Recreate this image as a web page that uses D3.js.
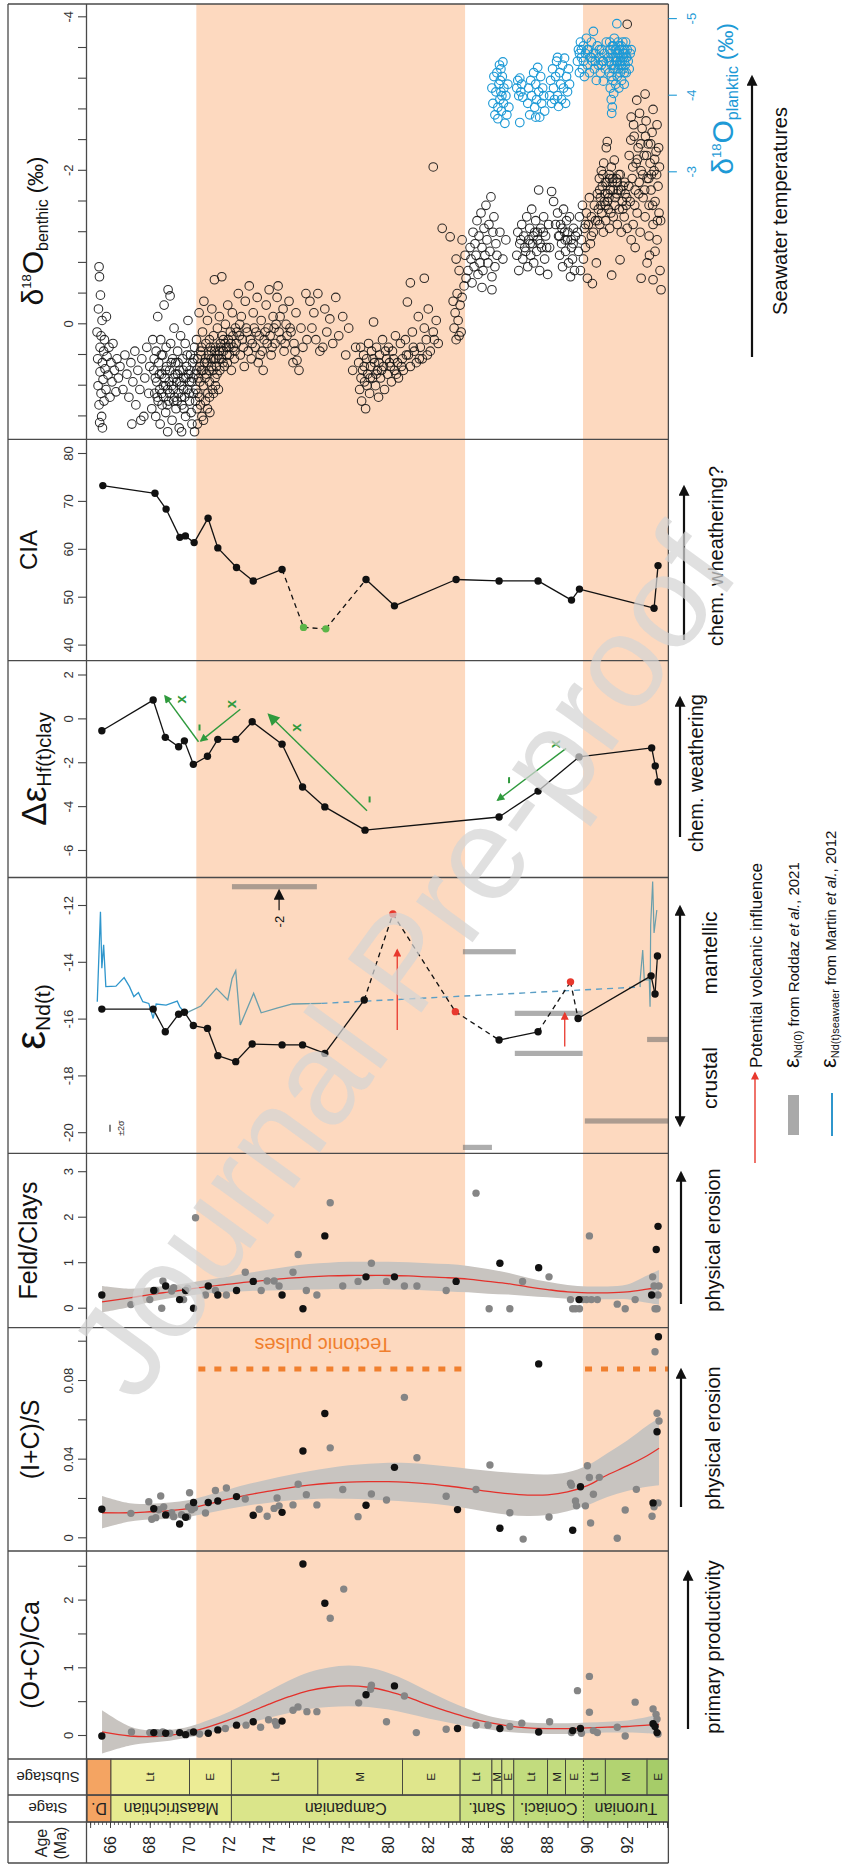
<!DOCTYPE html>
<html>
<head>
<meta charset="utf-8">
<script src="https://cdn.jsdelivr.net/npm/d3@7"></script>
<style>
  body { margin: 0; background: #fff; }
  svg { display: block; font-family: "Liberation Sans", Arial, Helvetica, sans-serif; }
</style>
</head>
<body>
<svg id="chart" width="842" height="1865"></svg>
<script>
// ---------- data (ages in Ma) ----------
const ageTicks = [66, 68, 70, 72, 74, 76, 78, 80, 82, 84, 86, 88, 90, 92];
const shadedAges = [[70.34, 83.85], [89.78, 94.07]];

const stageNames = ["D.", "Maastrichtian", "Campanian", "Sant.", "Coniaci.", "Turonian"];
const stageStart = [64.85, 66.05, 72.1, 83.6, 86.3, 89.8];
const stageEnd = [66.05, 72.1, 83.6, 86.3, 89.8, 94.07];
const subNames = ["", "Lt", "E", "Lt", "M", "E", "Lt", "M", "E", "Lt", "M", "E", "Lt", "M", "E"];
const subStart = [64.85, 66.05, 70.0, 72.1, 76.45, 80.7, 83.6, 85.2, 85.7, 86.3, 88.0, 88.9, 89.8, 90.9, 93.0];
const subEnd = [66.05, 70.0, 72.1, 76.45, 80.7, 83.6, 85.2, 85.7, 86.3, 88.0, 88.9, 89.8, 90.9, 93.0, 94.07];

// smoothing fits (red) with confidence band (grey)
const fitAge = [65.6, 67, 68, 69, 70, 71, 72, 73, 74, 75, 76, 77, 78, 79, 80, 81, 82, 83, 84, 85, 86, 87, 88, 89, 90, 91, 92, 93, 93.6];
const ocaFit = [0.06, 0.0, -0.01, 0.01, 0.06, 0.14, 0.24, 0.35, 0.47, 0.58, 0.67, 0.72, 0.74, 0.72, 0.66, 0.57, 0.46, 0.36, 0.27, 0.2, 0.15, 0.12, 0.11, 0.11, 0.12, 0.13, 0.14, 0.16, 0.17];
const ocaLow = [-0.26, -0.14, -0.1, -0.07, -0.02, 0.04, 0.12, 0.19, 0.27, 0.34, 0.4, 0.43, 0.44, 0.43, 0.39, 0.33, 0.26, 0.2, 0.14, 0.1, 0.06, 0.04, 0.03, 0.03, 0.04, 0.05, 0.05, 0.04, 0.02];
const ocaHigh = [0.38, 0.14, 0.08, 0.09, 0.14, 0.24, 0.36, 0.51, 0.67, 0.82, 0.94, 1.01, 1.04, 1.01, 0.93, 0.81, 0.66, 0.52, 0.4, 0.3, 0.24, 0.2, 0.19, 0.19, 0.2, 0.21, 0.23, 0.28, 0.32];
const icsFit = [0.013, 0.013, 0.0135, 0.0141, 0.0152, 0.0176, 0.02, 0.0222, 0.024, 0.0257, 0.027, 0.028, 0.0286, 0.0288, 0.0288, 0.0284, 0.0277, 0.0266, 0.0253, 0.0239, 0.0227, 0.022, 0.0221, 0.0236, 0.0268, 0.0322, 0.0368, 0.042, 0.0458];
const icsLow = [0.005, 0.0085, 0.0095, 0.01, 0.011, 0.013, 0.015, 0.0168, 0.0181, 0.0192, 0.0199, 0.0203, 0.0201, 0.0197, 0.0192, 0.0186, 0.0178, 0.0167, 0.0152, 0.0134, 0.012, 0.0113, 0.0118, 0.0137, 0.0168, 0.021, 0.024, 0.0262, 0.027];
const icsHigh = [0.0215, 0.0178, 0.0176, 0.0182, 0.0195, 0.0222, 0.025, 0.0277, 0.03, 0.0322, 0.0341, 0.0357, 0.0371, 0.0379, 0.0384, 0.0383, 0.0376, 0.0365, 0.0354, 0.0344, 0.0335, 0.0328, 0.0325, 0.0336, 0.037, 0.0432, 0.0497, 0.0572, 0.061];
const feldFit = [0.15, 0.24, 0.31, 0.37, 0.43, 0.49, 0.54, 0.59, 0.63, 0.67, 0.7, 0.72, 0.73, 0.73, 0.73, 0.72, 0.7, 0.68, 0.65, 0.6, 0.55, 0.48, 0.42, 0.37, 0.35, 0.35, 0.37, 0.43, 0.47];
const feldLow = [-0.08, 0.04, 0.15, 0.23, 0.29, 0.34, 0.37, 0.39, 0.4, 0.41, 0.42, 0.43, 0.43, 0.43, 0.43, 0.42, 0.4, 0.38, 0.36, 0.33, 0.31, 0.28, 0.25, 0.22, 0.21, 0.21, 0.21, 0.13, 0.09];
const feldHigh = [0.5, 0.44, 0.47, 0.51, 0.57, 0.64, 0.71, 0.79, 0.86, 0.93, 0.98, 1.01, 1.03, 1.03, 1.03, 1.02, 1.0, 0.98, 0.94, 0.87, 0.79, 0.68, 0.59, 0.52, 0.49, 0.49, 0.53, 0.73, 0.85];

// clay ratios: [age, value]
const ocaBlack = [[65.59, 0.0], [68.2, 0.05], [68.8, 0.04], [69.5, 0.05], [69.8, 0.02], [70.2, 0.06], [70.94, 0.04], [71.42, 0.09], [72.36, 0.16], [73.2, 0.21], [74.65, 0.22], [75.7, 2.54], [76.8, 1.96], [78.87, 0.61], [80.3, 0.74], [83.47, 0.11], [85.6, 0.11], [87.55, 0.06], [89.26, 0.08], [89.65, 0.11], [93.3, 0.18], [93.4, 0.14], [93.5, 0.05]];
const ocaGray = [[67.08, 0.06], [68.0, 0.05], [68.35, 0.05], [68.5, 0.04], [68.65, 0.06], [69.0, 0.04], [70.0, 0.05], [70.5, 0.03], [71.8, 0.11], [72.84, 0.16], [73.57, 0.13], [73.97, 0.24], [74.3, 0.21], [74.37, 0.16], [75.2, 0.38], [75.45, 0.43], [75.9, 0.36], [76.4, 0.36], [77.07, 1.74], [77.75, 2.17], [78.5, 0.49], [79.1, 0.69], [79.14, 0.75], [79.9, 0.21], [80.8, 0.59], [81.4, 0.05], [82.9, 0.1], [84.4, 0.16], [85.0, 0.16], [86.1, 0.14], [86.7, 0.19], [88.1, 0.21], [89.2, 0.05], [89.5, 0.67], [89.7, 0.04], [90.1, 0.35], [90.1, 0.88], [90.3, 0.08], [90.5, 0.05], [91.5, 0.13], [91.9, 0.0], [92.4, 0.5], [93.3, 0.4], [93.45, 0.32], [93.5, 0.25], [93.55, 0.03]];
const icsBlack = [[65.59, 0.0148], [68.2, 0.015], [68.8, 0.0119], [69.5, 0.0073], [69.8, 0.0107], [70.2, 0.0182], [70.94, 0.0182], [71.42, 0.019], [72.36, 0.0212], [73.2, 0.0117], [74.65, 0.0132], [75.7, 0.0444], [76.8, 0.0635], [78.87, 0.0168], [80.3, 0.0361], [83.47, 0.0146], [85.6, 0.0051], [87.55, 0.0887], [89.26, 0.0041], [89.65, 0.0262], [93.3, 0.018], [93.5, 0.0542], [93.57, 0.1025]];
const icsGray = [[67.05, 0.0127], [67.95, 0.0186], [68.1, 0.0097], [68.3, 0.0105], [68.45, 0.0145], [68.55, 0.0215], [68.7, 0.016], [69.1, 0.013], [69.2, 0.011], [69.6, 0.012], [69.9, 0.011], [70.0, 0.0232], [69.95, 0.016], [70.1, 0.0145], [70.25, 0.0155], [70.8, 0.0129], [71.3, 0.0243], [71.85, 0.0256], [72.8, 0.02], [73.5, 0.0148], [73.9, 0.0112], [74.25, 0.0152], [74.4, 0.0205], [74.5, 0.0165], [75.2, 0.017], [75.46, 0.0275], [75.87, 0.0222], [76.4, 0.017], [77.07, 0.046], [77.7, 0.0248], [78.47, 0.011], [79.14, 0.0225], [79.9, 0.0195], [80.8, 0.0717], [81.43, 0.041], [82.9, 0.0214], [84.4, 0.0248], [85.1, 0.0373], [86.1, 0.013], [86.77, -0.0004], [88.07, 0.0108], [89.15, 0.028], [89.2, 0.027], [89.4, 0.019], [89.45, 0.0165], [90.0, 0.0369], [90.1, 0.0309], [89.9, 0.0165], [90.16, 0.0078], [90.3, 0.0224], [90.6, 0.031], [91.5, 0.0], [91.9, 0.0144], [92.46, 0.0249], [93.25, 0.0112], [93.35, 0.016], [93.4, 0.0949], [93.5, 0.0636], [93.6, 0.0597], [93.55, 0.018]];
const feldBlack = [[65.59, 0.3], [68.2, 0.4], [68.8, 0.5], [69.5, 0.2], [69.8, 0.4], [70.2, 0.01], [70.94, 0.5], [71.42, 0.3], [72.36, 0.4], [73.2, 0.6], [74.65, 0.3], [75.7, 0.0], [76.8, 1.6], [78.87, 0.7], [80.3, 0.7], [83.4, 0.6], [85.6, 1.0], [87.55, 0.9], [89.58, 0.2], [93.23, 0.3], [93.46, 1.3], [93.55, 1.81]];
const feldGray = [[67.05, 0.09], [68.0, 0.2], [68.6, 0.01], [68.3, 0.4], [68.66, 0.61], [69.1, 0.39], [69.2, 0.46], [69.7, 0.2], [69.9, 0.45], [70.3, 2.0], [70.8, 0.3], [71.3, 0.4], [71.85, 0.3], [72.8, 0.8], [73.6, 0.4], [73.9, 0.61], [74.25, 0.61], [74.5, 0.5], [75.2, 0.8], [75.46, 1.19], [75.87, 0.4], [76.4, 0.3], [77.07, 2.33], [77.7, 0.5], [78.47, 0.6], [79.14, 1.0], [79.9, 0.6], [80.8, 0.5], [81.43, 0.5], [82.9, 0.4], [84.4, 2.54], [85.06, 0.0], [86.1, 0.0], [86.74, 0.6], [88.07, 0.7], [89.15, 0.2], [89.26, 0.0], [89.4, 0.0], [89.6, 0.0], [89.75, 0.2], [89.95, 0.2], [90.2, 0.2], [90.5, 0.2], [90.1, 1.6], [91.5, 0.1], [91.9, 0.0], [92.4, 0.2], [93.28, 0.7], [93.35, 0.5], [93.4, 0.0], [93.5, 0.0], [93.55, 0.3], [93.6, 0.5]];

// Nd isotopes
const ndSamples = [[65.59, -15.63], [68.17, -15.63], [68.78, -16.43], [69.45, -15.81], [69.74, -15.74], [70.19, -16.21], [70.9, -16.31], [71.42, -17.27], [72.32, -17.48], [73.15, -16.86], [74.65, -16.89], [75.68, -16.89], [76.8, -17.19], [78.78, -15.31], [85.56, -16.72], [87.52, -16.43], [89.53, -15.96], [93.2, -14.46], [93.4, -15.1], [93.52, -13.76]];
const ndVolcanic = [[80.22, -12.28], [83.36, -15.72], [89.15, -14.67]];
const volcanicArrows = [[80.44, -16.37, -13.55], [88.86, -16.95, -15.78]];
const ndRoddaz = [[72.13, 76.4, -11.32], [83.74, 86.4, -13.61], [86.35, 89.76, -15.78], [86.35, 89.76, -17.19], [93.0, 94.07, -16.7], [89.87, 94.07, -19.57], [83.74, 85.2, -20.5]];
const seawaterBlue = [[65.36, -15.37], [65.52, -12.2], [65.59, -14.19], [65.68, -13.37], [65.79, -14.84], [66.3, -14.82], [66.71, -14.52], [66.98, -14.84], [67.2, -15.19], [67.43, -15.05], [67.65, -15.37], [67.95, -15.43], [68.17, -15.96], [68.32, -15.45], [68.82, -15.49], [69.38, -15.35], [69.51, -15.55], [69.79, -15.78]];
const seawaterTeal = [[69.79, -15.78], [70.57, -15.52], [71.35, -14.9], [71.92, -15.31], [72.14, -14.55], [72.32, -14.28], [72.55, -16.19], [73.22, -15.07], [73.6, -15.76], [74.39, -15.6], [75.17, -15.45], [76.63, -15.43]];
const seawaterGap = [[76.63, -15.43], [92.65, -14.85]];
const seawaterLate = [[92.65, -14.85], [92.65, -14.6], [92.78, -13.55], [92.86, -14.6], [93.11, -14.6], [93.15, -15.55], [93.18, -12.67], [93.28, -11.14], [93.35, -12.95], [93.49, -12.14]];

// Hf
const hfSamples = [[65.59, -0.52], [68.17, 0.88], [68.78, -0.82], [69.45, -1.25], [69.74, -0.98], [70.19, -2.05], [70.9, -1.68], [71.42, -0.91], [72.32, -0.91], [73.15, -0.11], [74.65, -1.13], [75.68, -3.08], [76.8, -3.99], [78.82, -5.05], [85.56, -4.45], [87.52, -3.27], [89.58, -1.71], [93.23, -1.3], [93.41, -2.12], [93.55, -2.85]];
const hfGreenArrows = [[70.45, -1.02, 68.77, 1.06], [72.55, 0.46, 70.57, -0.98], [78.92, -4.17, 74.0, 0.2], [88.93, -1.32, 85.49, -3.68]];
const hfGreenCross = [[69.56, 0.91], [72.07, 0.7], [75.35, -0.37], [88.37, -1.13]];
const hfGreenTick = [[70.5, -0.37], [79.05, -3.65], [86.06, -2.77]];

// CIA
const ciaSamples = [[65.64, 73.4], [68.26, 71.8], [68.82, 68.5], [69.51, 62.6], [69.79, 62.9], [70.23, 61.5], [70.93, 66.6], [71.42, 60.4], [72.36, 56.3], [73.2, 53.5], [74.65, 55.9], [78.87, 53.8], [80.3, 48.3], [83.4, 53.8], [85.56, 53.5], [87.52, 53.5], [89.2, 49.5], [89.6, 51.8], [93.35, 47.8], [93.55, 56.7]];
const ciaGreen = [[75.73, 43.8], [76.85, 43.5]];

// oxygen isotopes: [age, permil]
const benthicD18O = [
  [65.35,0.1],[65.38,0.45],[65.4,0.8],[65.42,-0.2],[65.45,1.05],[65.45,-0.75],[65.47,-0.62],[65.5,0.3],[65.5,0.62],[65.52,-0.38],[65.55,0.9],[65.55,0.15],[65.58,1.2],[65.6,-0.05],[65.62,0.5],[65.65,0.72],[65.68,0.35],[65.7,1.0],[65.72,0.2],[65.75,0.58],[65.8,0.85],[65.82,-0.1],[65.85,0.42],[65.9,0.66],[65.95,0.3],[66.0,0.95],[66.05,0.5],[66.1,0.75],[66.15,0.25],[66.22,0.6],[66.3,0.88],[66.35,0.45],[66.42,0.7],[66.5,0.55],[65.62,1.35],[65.48,1.28],
  [66.65,0.85],[66.75,0.4],[66.85,0.65],[66.95,0.95],[67.05,0.5],[67.15,0.75],[67.25,0.35],[67.3,1.05],[67.4,0.6],[67.5,0.85],[67.6,0.45],[67.7,1.2],[67.75,0.7],[67.85,0.3],[67.95,0.9],[68.0,0.55],[68.1,1.1],[68.15,0.2],[67.1,1.3],[67.55,1.25],
  [68.2,0.6],[68.25,0.9],[68.3,1.2],[68.32,0.35],[68.35,0.75],[68.4,-0.1],[68.42,1.0],[68.45,0.5],[68.5,0.85],[68.52,1.3],[68.55,0.2],[68.6,0.65],[68.62,1.05],[68.65,0.4],[68.7,0.95],[68.72,-0.25],[68.75,0.7],[68.8,1.15],[68.82,0.3],[68.85,0.55],[68.9,0.85],[68.92,-0.45],[68.95,1.0],[69.0,0.6],[69.02,-0.37],[69.05,0.25],[69.1,0.8],[69.12,1.25],[69.15,0.45],[69.2,0.7],[69.22,0.05],[69.25,0.95],[69.3,0.5],[69.32,1.1],[69.35,0.75],[69.4,0.35],[69.45,0.9],[69.48,1.35],[69.5,0.6],[69.55,0.15],[69.6,0.8],[69.62,1.05],[69.65,0.45],[69.7,0.7],[69.75,0.95],[69.78,0.25],[69.8,1.2],[69.85,0.55],[69.9,0.85],[69.92,-0.05],[69.95,0.65],[70.0,1.0],[70.05,0.4],[70.1,0.75],[70.12,1.3],[70.15,0.5],[70.2,0.9],[70.25,0.3],[70.28,0.65],[69.0,0.9],[68.8,0.8],[69.4,0.65],[68.6,0.9],[69.2,1.0],[69.7,0.85],[70.0,0.75],
  [68.22,0.45],[68.28,0.7],[68.38,0.95],[68.48,0.65],[68.58,0.4],[68.68,0.8],[68.78,0.6],[68.88,1.05],[68.98,0.75],[69.08,0.5],[69.18,0.85],[69.28,0.65],[69.38,1.0],[69.42,0.5],[69.52,0.75],[69.58,0.95],[69.68,0.6],[69.72,1.1],[69.82,0.7],[69.88,0.4],[69.98,0.9],[70.02,0.6],[70.08,1.15],[70.18,0.7],[70.22,0.45],[70.3,1.0],[68.9,1.4],[69.6,1.4],
  [70.32,0.85],[70.35,0.2],[70.38,1.1],[70.4,0.45],[70.45,0.7],[70.48,-0.15],[70.5,0.95],[70.55,0.35],[70.6,0.6],[70.62,1.2],[70.65,0.1],[70.7,0.8],[70.72,-0.3],[70.75,0.5],[70.8,1.0],[70.82,0.25],[70.85,0.65],[70.9,-0.05],[70.92,0.9],[70.95,0.4],[71.0,0.75],[71.02,1.15],[71.05,0.3],[71.1,0.55],[71.12,-0.2],[71.15,0.85],[71.2,0.15],[71.22,0.45],[71.25,-0.58],[71.28,0.7],[71.3,0.3],[71.35,0.55],[71.4,0.05],[71.42,0.4],[71.45,0.85],[71.5,-0.1],[71.52,0.6],[71.55,0.25],[71.6,0.45],[71.62,-0.62],[71.65,0.15],[71.7,0.35],[71.75,0.55],[71.8,0.0],[71.85,0.3],[71.9,0.5],[71.92,-0.25],[71.95,0.2],[72.0,0.4],[72.05,0.1],[72.1,0.6],[72.15,-0.15],[72.2,0.3],[72.25,0.45],[72.3,0.05],[72.35,0.25],[70.6,0.3],[71.0,0.2],[71.3,0.8],[70.8,0.45],[71.1,0.35],[71.5,0.35],[71.7,0.2],[70.5,0.55],
  [70.36,0.6],[70.42,0.9],[70.52,0.75],[70.58,0.4],[70.68,0.6],[70.78,0.7],[70.88,0.5],[70.98,0.6],[71.08,0.45],[71.18,0.6],[71.26,0.35],[71.32,0.45],[71.38,0.65],[71.48,0.45],[71.58,0.3],[71.68,0.5],[71.78,0.25],[71.88,0.4],[71.98,0.3],[72.08,0.25],[72.18,0.15],[72.28,0.35],[72.38,0.1],[70.4,1.3],[70.7,1.25],[70.25,1.4],[71.0,0.95],[70.9,1.1],[71.2,0.9],[70.55,1.05],
  [72.45,-0.4],[72.5,0.15],[72.55,0.4],[72.6,-0.1],[72.7,0.3],[72.75,0.55],[72.8,-0.3],[72.9,0.1],[72.95,0.35],[73.0,-0.5],[73.05,0.2],[73.1,0.45],[73.2,-0.15],[73.25,0.05],[73.3,0.3],[73.4,-0.35],[73.45,0.5],[73.5,0.15],[73.6,-0.05],[73.65,0.35],[73.7,0.6],[73.8,0.1],[73.85,-0.25],[73.9,0.25],[74.0,-0.45],[74.05,0.15],[74.1,0.4],[74.2,-0.1],[74.25,0.05],[74.3,0.25],[74.4,-0.35],[74.45,-0.5],[74.5,0.1],[74.6,0.2],[74.7,-0.2],[74.75,0.35],[74.85,0.0],[74.9,0.15],[75.0,-0.3],[75.1,0.1],[75.2,0.5],[75.25,0.25],[75.35,-0.15],[75.4,0.47],[75.5,0.6],[75.6,0.05],[75.7,0.3],[75.85,-0.4],[75.9,0.2],
  [72.52,0.0],[72.65,0.2],[72.85,0.05],[73.15,0.25],[73.35,0.1],[73.55,0.4],[73.75,0.2],[73.95,0.05],[74.15,0.3],[74.35,0.0],[74.55,-0.1],[74.8,0.25],[75.05,0.05],[75.3,0.35],
  [76.05,-0.3],[76.15,0.05],[76.25,-0.15],[76.35,0.2],[76.45,-0.4],[76.55,0.35],[76.7,0.3],[76.8,-0.2],[76.9,0.1],[77.05,-0.07],[77.2,0.25],[77.35,-0.35],[77.5,0.15],[77.7,-0.1],[77.85,0.4],[78.0,0.05],[78.2,0.6],[78.35,0.3],
  [78.5,0.5],[78.55,0.85],[78.6,0.3],[78.65,1.0],[78.7,0.6],[78.75,0.4],[78.8,0.75],[78.85,1.1],[78.9,0.45],[78.95,0.65],[79.0,0.25],[79.05,0.9],[79.1,0.55],[79.15,0.35],[79.2,0.7],[79.25,-0.03],[79.3,0.5],[79.35,0.8],[79.4,0.3],[79.45,0.6],[79.5,0.95],[79.55,0.4],[79.6,0.7],[79.7,0.2],[79.75,0.55],[79.8,0.85],[79.9,0.45],[79.95,0.65],[80.0,0.3],[80.1,0.55],[80.15,0.75],[80.2,0.35],[80.3,0.6],[80.35,0.15],[80.45,0.5],[80.5,0.7],[80.6,0.25],[80.7,0.45],[80.75,0.6],[80.85,0.2],[80.95,-0.29],[81.0,0.4],[81.1,0.55],[81.2,0.1],[81.3,0.35],[81.4,0.5],[81.5,-0.1],[81.6,0.3],[81.7,0.45],[81.8,0.05],[81.9,0.2],[82.0,-0.2],[82.1,0.35],[82.25,0.1],[82.4,-0.05],[82.5,0.25],
  [78.62,0.7],[78.78,0.55],[78.92,0.8],[79.08,0.7],[79.22,0.45],[79.38,0.65],[79.52,0.5],[79.65,0.6],[79.85,0.35],[80.05,0.5],[80.25,0.45],[80.4,0.65],[80.65,0.55],[80.9,0.4],[81.25,0.3],[81.55,0.45],[81.95,0.4],[82.3,0.2],
  [83.25,-0.3],[83.3,0.05],[83.35,-0.15],[83.4,0.2],[83.45,-0.4],[83.5,-0.05],[83.55,0.15],[83.6,-0.25],[83.65,0.1],[83.7,-0.35],[83.8,-0.5],[83.9,-0.6],[82.25,-2.05],[81.1,-0.54],[81.8,-0.6],[82.7,-1.25],[83.1,-1.14],[83.7,-1.1],[83.4,-0.85],[83.55,-0.7],[83.85,-0.9],[84.2,-0.54],[84.7,-0.48],[85.2,-0.45],
  [84.0,-0.7],[84.1,-1.0],[84.15,-0.85],[84.25,-1.2],[84.3,-0.75],[84.35,-1.05],[84.4,-0.9],[84.45,-1.35],[84.5,-0.65],[84.55,-1.15],[84.6,-0.8],[84.65,-1.45],[84.7,-1.0],[84.75,-0.7],[84.8,-1.25],[84.85,-0.9],[84.9,-1.55],[84.95,-1.1],[85.0,-0.8],[85.05,-1.3],[85.1,-0.95],[85.15,-1.66],[85.2,-0.62],[85.25,-1.2],[85.3,-1.4],[85.35,-0.75],[85.4,-1.05],[85.45,-0.9],[85.6,-1.2],[85.75,-0.85],[85.9,-1.1],
  [86.45,-0.9],[86.5,-1.2],[86.55,-0.7],[86.6,-1.05],[86.7,-1.3],[86.75,-0.85],[86.8,-1.15],[86.9,-0.95],[86.95,-1.4],[87.0,-0.75],[87.05,-1.1],[87.1,-1.25],[87.15,-0.9],[87.2,-1.5],[87.25,-1.05],[87.3,-0.8],[87.35,-1.2],[87.4,-1.35],[87.45,-0.95],[87.5,-1.1],[87.55,-1.75],[87.6,-0.7],[87.65,-1.25],[87.7,-1.0],[87.8,-1.4],[87.85,-0.85],[87.9,-1.15],[88.0,-0.65],[88.05,-1.3],[88.1,-1.0],[88.2,-1.73],[88.3,-1.6],[88.5,-1.45],[88.55,-1.15],[88.6,-0.9],[88.65,-1.3],[88.7,-1.05],[88.75,-0.75],[88.8,-1.5],[88.85,-1.2],[88.9,-0.95],[88.95,-1.35],[89.0,-1.1],[89.05,-0.8],[89.1,-1.4],[89.15,-0.62],[89.2,-1.0],[89.25,-0.85],[89.3,-1.25],[89.35,-0.7],[89.4,-1.15],
  [86.65,-1.1],[86.85,-1.0],[87.12,-1.05],[87.28,-1.15],[87.48,-1.2],[87.62,-1.05],[87.78,-1.2],[87.95,-1.0],[88.6,-1.15],[88.72,-1.25],[88.88,-1.1],[89.02,-1.2],[89.18,-1.1],[89.28,-1.05],[88.4,-1.3],
  [89.5,-1.2],[89.55,-0.95],[89.6,-1.4],[89.65,-0.7],[89.7,-1.1],[89.75,-1.55],[89.8,-0.85],[89.85,-1.25],[89.9,-1.0],[89.95,-1.45],[90.0,-0.6],[90.05,-1.3],[90.1,-1.65],[90.15,-1.05],[90.2,-1.4],[90.25,-0.53],[90.3,-1.2],[90.35,-1.55],[90.4,-1.35],[90.45,-0.8],[90.5,-1.7],[90.55,-1.5],[90.6,-1.9],[90.62,-1.3],[90.65,-1.65],[90.7,-2.0],[90.72,-1.45],[90.75,-1.8],[90.8,-1.2],[90.82,-2.1],[90.85,-1.6],[90.9,-1.85],[90.92,-1.35],[90.95,-2.3],[91.0,-2.38],[91.02,-1.7],[91.05,-1.5],[91.1,-1.95],[91.12,-1.25],[91.15,-1.75],[91.2,-2.05],[91.22,-0.64],[91.25,-1.85],[91.3,-1.4],[91.35,-2.14],[91.4,-1.65],[91.45,-1.9],[91.5,-1.3],[91.55,-1.75],[91.6,-1.5],[91.64,-0.84],[91.65,-1.95],[91.7,-1.2],[91.75,-1.6],[91.8,-1.8],[91.85,-1.4],[91.9,-1.7],[91.95,-1.55],[92.0,-1.25],[92.0,-3.91],[91.0,-1.6],[91.3,-1.75],[90.9,-1.55],[91.5,-1.85],
  [90.62,-1.75],[90.68,-1.55],[90.78,-1.95],[90.88,-1.7],[90.98,-1.85],[91.08,-1.65],[91.18,-1.45],[91.28,-1.9],[91.38,-1.55],[91.48,-1.7],[91.58,-1.95],[91.68,-1.75],[91.78,-1.5],[91.88,-1.85],[91.98,-1.65],[92.08,-1.8],[92.18,-2.4],[92.28,-2.05],[92.38,-1.55],[92.52,-2.15],[92.58,-1.7],[92.68,-2.35],[92.78,-1.95],[92.88,-1.75],[92.98,-2.2],[93.08,-1.9],[93.18,-2.35],[93.28,-1.55],[93.38,-2.15],[93.48,-1.95],[93.58,-2.3],[93.52,-1.35],[92.32,-2.6],[92.92,-2.45],[93.22,-1.95],[91.12,-1.9],[90.52,-1.35],[90.2,-1.15],[89.9,-1.3],
  [92.1,-2.2],[92.15,-1.6],[92.2,-2.7],[92.25,-1.9],[92.3,-1.3],[92.35,-2.45],[92.4,-1.75],[92.45,-2.1],[92.48,-2.92],[92.5,-1.45],[92.55,-2.3],[92.6,-1.85],[92.62,-2.75],[92.65,-1.2],[92.7,-2.0],[92.75,-2.55],[92.8,-1.65],[92.85,-2.2],[92.9,-1.4],[92.95,-2.65],[93.0,-1.9],[93.05,-2.35],[93.1,-1.55],[93.12,-0.9],[93.15,-2.1],[93.2,-1.75],[93.25,-2.5],[93.3,-1.3],[93.35,-2.0],[93.4,-1.6],[93.45,-2.25],[93.5,-1.1],[93.55,-1.8],[93.6,-1.45],[93.62,-2.05],[93.65,-0.7],[93.68,-1.35],[93.7,-0.45],[92.7,-0.6],[93.0,-0.8],[92.4,-1.0],[93.3,-2.8],[92.9,-3.0],[93.5,-2.6],[93.1,-1.15],[92.2,-1.1],[93.4,-0.95],[93.3,-0.58]
];
const plankticD18O = [
  [85.2,-4.1],[85.25,-3.9],[85.3,-4.25],[85.35,-3.75],[85.4,-4.05],[85.45,-4.3],[85.5,-3.85],[85.55,-4.15],[85.58,-4.4],[85.6,-3.95],[85.62,-4.2],[85.65,-4.35],[85.68,-3.8],[85.7,-4.0],[85.72,-4.25],[85.75,-4.44],[85.78,-3.9],[85.8,-4.1],[85.85,-3.64],[85.9,-4.0],[85.95,-3.75],[86.0,-4.15],[85.5,-3.7],[85.65,-4.05],[86.05,-3.85],
  [86.45,-4.1],[86.5,-4.2],[86.55,-4.0],[86.6,-4.23],[86.65,-4.05],[86.7,-4.15],[86.75,-3.98],[86.6,-3.65],
  [87.0,-3.9],[87.05,-4.1],[87.1,-3.75],[87.15,-4.2],[87.2,-4.0],[87.3,-4.3],[87.35,-3.85],[87.4,-4.15],[87.45,-3.95],[87.5,-4.37],[87.55,-4.05],[87.6,-3.72],[87.65,-4.25],[87.7,-3.9],[87.75,-4.1],[87.8,-4.0],[87.85,-3.8],[87.4,-3.72],
  [88.1,-4.0],[88.15,-4.2],[88.2,-3.9],[88.25,-4.35],[88.3,-4.1],[88.35,-3.95],[88.4,-4.25],[88.45,-4.45],[88.5,-4.0],[88.55,-3.86],[88.6,-4.3],[88.65,-4.15],[88.7,-3.95],[88.75,-4.4],[88.8,-4.1],[88.85,-4.49],[88.9,-3.9],[88.95,-4.25],[89.0,-4.05],[89.05,-4.35],[89.1,-4.15],[88.5,-4.5],
  [89.5,-4.45],[89.55,-4.6],[89.6,-4.3],[89.65,-4.7],[89.7,-4.5],[89.75,-4.35],[89.8,-4.65],[89.85,-4.25],[89.9,-4.55],[89.95,-4.75],[90.0,-4.4],[90.05,-4.6],[90.1,-4.3],[90.15,-4.5],[90.2,-4.7],[90.25,-4.45],[90.3,-4.84],[90.35,-4.35],[90.4,-4.55],[90.45,-4.2],[90.5,-4.65],[90.55,-4.4],[90.6,-4.5],[90.65,-4.3],[90.7,-4.6],[90.75,-4.45],[90.8,-4.19],[90.85,-4.55],[90.9,-4.35],[90.95,-4.7],
  [89.6,-4.55],[89.8,-4.45],[90.0,-4.6],[90.2,-4.5],[90.4,-4.45],[90.6,-4.6],[90.8,-4.45],[89.7,-4.6],[90.3,-4.55],[90.7,-4.4],
  [91.05,-4.5],[91.1,-4.3],[91.12,-4.7],[91.15,-4.1],[91.18,-4.55],[91.2,-3.95],[91.22,-4.4],[91.22,-3.77],[91.25,-4.65],[91.28,-4.2],[91.3,-4.5],[91.32,-4.03],[91.35,-4.75],[91.38,-4.35],[91.4,-4.6],[91.42,-4.15],[91.45,-4.45],[91.48,-4.94],[91.5,-4.25],[91.52,-4.55],[91.55,-4.7],[91.58,-4.1],[91.6,-4.4],[91.62,-4.6],[91.65,-4.3],[91.68,-4.5],[91.7,-4.65],[91.72,-4.2],[91.75,-4.45],[91.78,-4.7],[91.8,-4.35],[91.82,-4.55],[91.85,-4.15],[91.88,-4.6],[91.9,-4.4],[91.92,-4.7],[91.95,-4.3],[91.98,-4.5],[92.0,-4.6],[92.05,-4.45],[92.1,-4.35],[92.15,-4.55],[92.2,-4.6],[91.25,-3.85],
  [91.1,-4.45],[91.15,-4.6],[91.2,-4.25],[91.3,-4.65],[91.35,-4.4],[91.4,-4.5],[91.45,-4.6],[91.5,-4.45],[91.55,-4.35],[91.6,-4.55],[91.65,-4.45],[91.7,-4.4],[91.75,-4.6],[91.8,-4.5],[91.85,-4.45],[91.9,-4.55],[91.95,-4.5],[91.3,-4.35],[91.6,-4.65],[91.85,-4.3]
];

// axis ticks and labels per panel
const ocaTicks = [0, 0.5, 1, 1.5, 2, 2.5], ocaLabels = [0, 1, 2];
const icsTicks = [0, 0.02, 0.04, 0.06, 0.08, 0.1], icsLabels = [0, 0.04, 0.08];
const feldTicks = [0, 1, 2, 3];
const ndTicks = [-20, -18, -16, -14, -12];
const hfTicks = [-6, -4, -2, 0, 2];
const ciaTicks = [40, 50, 60, 70, 80];
const benthicTicks = [-4, -3.6, -3.2, -2.8, -2.4, -2, -1.6, -1.2, -0.8, -0.4, 0, 0.4, 0.8, 1.2], benthicLabels = [-4, -2, 0];
const plankticTicks = [-5, -4, -3];

// ---------- drawing ----------
// the figure is laid out in its original landscape frame (age runs downwards,
// panels side by side) and the whole group is turned a quarter turn.
const FONT = '"Liberation Sans", Arial, Helvetica, sans-serif';
const svg = d3.select("#chart");
const defs = svg.append("defs");
const g = svg.append("g").attr("transform", "translate(0,1865) rotate(-90)");

const ageY = d3.scaleLinear().domain([66, 92]).range([110, 627.2]);
const Y1 = ageY(94.07);
const AX = 86.5;   // value axes line
const edges = [2, 43, 70, 106, 314, 537.3, 711.7, 987.5, 1204.3, 1425.7, 1861];

const ocaX = d3.scaleLinear().domain([0, 2.5]).range([129, 298.25]);
const icsX = d3.scaleLinear().domain([0, 0.1]).range([326.7, 523.3]);
const feldX = d3.scaleLinear().domain([0, 3]).range([556.3, 692.8]);
const ndX = d3.scaleLinear().domain([-20, -12]).range([731.8, 959]);
const hfX = d3.scaleLinear().domain([-6, 2]).range([1014, 1189.5]);
const ciaX = d3.scaleLinear().domain([40, 80]).range([1219.4, 1411]);
const d18X = d3.scaleLinear().domain([0, -4]).range([1540.7, 1847.7]);
const plX = d3.scaleLinear().domain([-4, -5]).range([1769.3, 1845.9]);

function marker(id, color, w, h) {
  defs.append("marker").attr("id", id).attr("viewBox", "0 0 10 10")
    .attr("refX", 8).attr("refY", 5).attr("markerWidth", w).attr("markerHeight", h)
    .attr("markerUnits", "userSpaceOnUse").attr("orient", "auto-start-reverse")
    .append("path").attr("d", "M0,0L10,5L0,10z").attr("fill", color);
}
marker("hBlack", "#111", 13, 11);
marker("hRed", "#e8382d", 10, 8);
marker("hGreen", "#2f9a3d", 9, 8);
marker("hGreenBig", "#2f9a3d", 14, 12);

// shaded intervals
g.append("g").selectAll("rect").data(shadedAges).join("rect")
  .attr("x", edges[3]).attr("width", edges[10] - edges[3])
  .attr("y", d => ageY(d[0])).attr("height", d => ageY(d[1]) - ageY(d[0]))
  .attr("fill", "#fdd9bf");

// stage and substage columns
const stageColors = ["#f4a462", "#e6eb8f", "#dae58a", "#cde184", "#c0db7b", "#b1d372"];
const subColors = ["#f4a462", "#ecec95", "#ecec95", "#dfe68c", "#dfe68c", "#dfe68c", "#cfe287", "#cfe287", "#cfe287", "#c2dc7e", "#c2dc7e", "#c2dc7e", "#b6d676", "#b2d371", "#a6cc69"];
g.append("g").selectAll("rect").data(stageNames).join("rect")
  .attr("x", edges[1]).attr("width", edges[2] - edges[1])
  .attr("y", (d, i) => ageY(stageStart[i])).attr("height", (d, i) => ageY(stageEnd[i]) - ageY(stageStart[i]))
  .attr("fill", (d, i) => stageColors[i]).attr("stroke", "#333").attr("stroke-width", 0.8);
g.append("g").selectAll("rect").data(subNames).join("rect")
  .attr("x", edges[2]).attr("width", edges[3] - edges[2])
  .attr("y", (d, i) => ageY(subStart[i])).attr("height", (d, i) => ageY(subEnd[i]) - ageY(subStart[i]))
  .attr("fill", (d, i) => subColors[i]).attr("stroke", "#333").attr("stroke-width", 0.8);
// Coniacian / Turonian limit is dotted
g.append("rect").attr("x", edges[1] + 0.5).attr("width", edges[3] - edges[1] - 1)
  .attr("y", ageY(89.8) - 0.8).attr("height", 1.6).attr("fill", "#c0db7b");
g.append("line").attr("x1", edges[1]).attr("x2", edges[3]).attr("y1", ageY(89.8)).attr("y2", ageY(89.8))
  .attr("stroke", "#333").attr("stroke-width", 0.9).attr("stroke-dasharray", "2,2");

g.append("g").selectAll("text").data(stageNames).join("text")
  .attr("transform", (d, i) => `translate(${(edges[1] + edges[2]) / 2},${ageY((stageStart[i] + stageEnd[i]) / 2)}) rotate(-90)`)
  .attr("text-anchor", "middle").attr("dominant-baseline", "central")
  .attr("font-size", 16).attr("fill", "#222").text(d => d);
g.append("g").selectAll("text").data(subNames).join("text")
  .attr("x", (edges[2] + edges[3]) / 2).attr("y", (d, i) => ageY((subStart[i] + subEnd[i]) / 2))
  .attr("text-anchor", "middle").attr("dominant-baseline", "central")
  .attr("font-size", 11.5).attr("fill", "#222").text(d => d);

// fits with confidence bands
function drawFit(xs, fit, low, high) {
  const rows = fitAge.map((a, i) => ({ a, f: fit[i], lo: low[i], hi: high[i] }));
  g.append("path").datum(rows)
    .attr("d", d3.area().curve(d3.curveCatmullRom).y(d => ageY(d.a)).x0(d => xs(d.lo)).x1(d => xs(d.hi)))
    .attr("fill", "#c8c4c0");
  g.append("path").datum(rows)
    .attr("d", d3.line().curve(d3.curveCatmullRom).y(d => ageY(d.a)).x(d => xs(d.f)))
    .attr("fill", "none").attr("stroke", "#e4312b").attr("stroke-width", 1.3);
}
function drawDots(xs, pts, color, r = 3.7) {
  g.append("g").selectAll("circle").data(pts).join("circle")
    .attr("cx", d => xs(d[1])).attr("cy", d => ageY(d[0])).attr("r", r).attr("fill", color);
}
drawFit(ocaX, ocaFit, ocaLow, ocaHigh);
drawDots(ocaX, ocaGray, "#858585"); drawDots(ocaX, ocaBlack, "#111");
drawFit(icsX, icsFit, icsLow, icsHigh);
drawDots(icsX, icsGray, "#858585"); drawDots(icsX, icsBlack, "#111");
drawFit(feldX, feldFit, feldLow, feldHigh);
drawDots(feldX, feldGray, "#858585"); drawDots(feldX, feldBlack, "#111");

// tectonic pulses
g.append("g").selectAll("line").data(shadedAges).join("line")
  .attr("x1", 496).attr("x2", 496).attr("y1", d => ageY(d[0]) + 2).attr("y2", d => ageY(d[1]))
  .attr("stroke", "#f07f2e").attr("stroke-width", 5).attr("stroke-dasharray", "7,9");
g.append("text").attr("transform", `translate(520,${ageY(76.7)}) rotate(-90)`)
  .attr("text-anchor", "middle").attr("dominant-baseline", "central")
  .attr("font-size", 20).attr("fill", "#f07f2e").text("Tectonic pulses");

// eNd panel
g.append("g").selectAll("rect").data(ndRoddaz).join("rect")
  .attr("x", d => ndX(d[2]) - 2.6).attr("width", 5.2)
  .attr("y", d => ageY(d[0])).attr("height", d => ageY(d[1]) - ageY(d[0]))
  .attr("fill", "rgba(105,105,105,0.55)");
const lineAV = xs => d3.line().x(d => xs(d[1])).y(d => ageY(d[0]));
g.append("path").datum(seawaterBlue).attr("d", lineAV(ndX)).attr("fill", "none").attr("stroke", "#2f96cc").attr("stroke-width", 1.3);
g.append("path").datum(seawaterTeal).attr("d", lineAV(ndX)).attr("fill", "none").attr("stroke", "#6a9fac").attr("stroke-width", 1.3);
g.append("path").datum(seawaterGap).attr("d", lineAV(ndX)).attr("fill", "none").attr("stroke", "#5b9fc6").attr("stroke-width", 1.4).attr("stroke-dasharray", "6,5");
g.append("path").datum(seawaterLate).attr("d", lineAV(ndX)).attr("fill", "none").attr("stroke", "#6a9fac").attr("stroke-width", 1.2);

function drawSeries(xs, main, flagged, flagColor) {
  const all = main.map(d => ({ a: d[0], v: d[1], f: false }))
    .concat(flagged.map(d => ({ a: d[0], v: d[1], f: true })))
    .sort((p, q) => p.a - q.a);
  const segs = d3.pairs(all);
  g.append("g").selectAll("line").data(segs).join("line")
    .attr("x1", d => xs(d[0].v)).attr("y1", d => ageY(d[0].a))
    .attr("x2", d => xs(d[1].v)).attr("y2", d => ageY(d[1].a))
    .attr("stroke", "#111").attr("stroke-width", 1.3)
    .attr("stroke-dasharray", d => (d[0].f || d[1].f) ? "5,4" : null);
  g.append("g").selectAll("circle").data(all).join("circle")
    .attr("cx", d => xs(d.v)).attr("cy", d => ageY(d.a)).attr("r", 3.7)
    .attr("fill", d => d.f ? flagColor : "#111");
}
drawSeries(ndX, ndSamples, ndVolcanic, "#e8382d");
g.append("g").selectAll("line").data(volcanicArrows).join("line")
  .attr("x1", d => ndX(d[1])).attr("x2", d => ndX(d[2])).attr("y1", d => ageY(d[0])).attr("y2", d => ageY(d[0]))
  .attr("stroke", "#e8382d").attr("stroke-width", 1.3).attr("marker-end", "url(#hRed)");
// off-scale Roddaz value
g.append("line").attr("x1", ndX(-12.15)).attr("x2", ndX(-11.47)).attr("y1", ageY(74.5)).attr("y2", ageY(74.5))
  .attr("stroke", "#111").attr("stroke-width", 1.2).attr("marker-end", "url(#hBlack)");
g.append("text").attr("x", ndX(-12.55)).attr("y", ageY(74.5)).attr("text-anchor", "middle").attr("dominant-baseline", "central")
  .attr("font-size", 13).attr("fill", "#111").text("-2");
// 2 sigma
g.append("line").attr("x1", ndX(-19.95)).attr("x2", ndX(-19.7)).attr("y1", ageY(66)).attr("y2", ageY(66)).attr("stroke", "#333").attr("stroke-width", 1.2);
g.append("text").attr("x", ndX(-19.82)).attr("y", ageY(66.55)).attr("text-anchor", "middle").attr("dominant-baseline", "central")
  .attr("font-size", 9).attr("fill", "#333").text("±2σ");

// Hf panel
drawSeries(hfX, hfSamples, [], "#111");
g.append("g").selectAll("line").data(hfGreenArrows).join("line")
  .attr("x1", d => hfX(d[1])).attr("y1", d => ageY(d[0])).attr("x2", d => hfX(d[3])).attr("y2", d => ageY(d[2]))
  .attr("stroke", "#2f9a3d").attr("stroke-width", 1.4)
  .attr("marker-end", (d, i) => i === 2 ? "url(#hGreenBig)" : "url(#hGreen)");
g.append("g").selectAll("text").data(hfGreenCross).join("text")
  .attr("x", d => hfX(d[1])).attr("y", d => ageY(d[0])).attr("text-anchor", "middle").attr("dominant-baseline", "central")
  .attr("font-size", 15).attr("font-weight", "bold").attr("fill", "#2f9a3d").text("x");
g.append("g").selectAll("line").data(hfGreenTick).join("line")
  .attr("x1", d => hfX(d[1]) - 3).attr("x2", d => hfX(d[1]) + 3).attr("y1", d => ageY(d[0])).attr("y2", d => ageY(d[0]))
  .attr("stroke", "#2f9a3d").attr("stroke-width", 2);

// CIA panel
drawSeries(ciaX, ciaSamples, ciaGreen, "#5cb548");

// oxygen isotopes
g.append("g").selectAll("circle").data(benthicD18O).join("circle")
  .attr("cx", d => d18X(d[1])).attr("cy", d => ageY(d[0])).attr("r", 4.3)
  .attr("fill", "none").attr("stroke", "#151515").attr("stroke-width", 1.05).attr("stroke-opacity", 0.9);
g.append("g").selectAll("circle").data(plankticD18O).join("circle")
  .attr("cx", d => plX(d[1])).attr("cy", d => ageY(d[0])).attr("r", 4.3)
  .attr("fill", "none").attr("stroke", "#1e9ad6").attr("stroke-width", 1.15);

// frame
const frame = g.append("g").attr("stroke", "#4a4a4a").attr("stroke-width", 1.3);
frame.selectAll("line.sep").data(edges).join("line").attr("class", "sep")
  .attr("x1", d => d).attr("x2", d => d).attr("y1", 8).attr("y2", Y1);
frame.append("line").attr("x1", edges[0]).attr("x2", edges[10]).attr("y1", 8).attr("y2", 8);
frame.append("line").attr("x1", edges[0]).attr("x2", edges[10]).attr("y1", Y1).attr("y2", Y1);
frame.append("line").attr("x1", edges[0]).attr("x2", edges[10]).attr("y1", AX).attr("y2", AX);

// value axes
function valueAxis(xs, ticks, labels, color = "#333") {
  const ax = g.append("g").attr("transform", `translate(0,${AX})`)
    .call(d3.axisTop(xs).tickValues(ticks).tickSize(8.5).tickPadding(5)
      .tickFormat(d => labels.includes(d) ? String(d) : ""));
  ax.attr("font-family", FONT).attr("font-size", 13);
  ax.select(".domain").remove();
  ax.selectAll("line").attr("stroke", "#444").attr("stroke-width", 1.1);
  ax.selectAll("text").attr("fill", color);
}
valueAxis(ocaX, ocaTicks, ocaLabels);
valueAxis(icsX, icsTicks, icsLabels);
valueAxis(feldX, feldTicks, feldTicks);
valueAxis(ndX, ndTicks, ndTicks);
valueAxis(hfX, hfTicks, hfTicks);
valueAxis(ciaX, ciaTicks, ciaTicks);
valueAxis(d18X, benthicTicks, benthicLabels);
const pax = g.append("g").attr("transform", `translate(0,${Y1})`)
  .call(d3.axisBottom(plX).tickValues(plankticTicks).tickSize(8.5).tickPadding(10).tickFormat(d => String(d)));
pax.attr("font-family", FONT).attr("font-size", 13);
pax.select(".domain").remove();
pax.selectAll("line").attr("stroke", "#1e9ad6").attr("stroke-width", 1.1);
pax.selectAll("text").attr("fill", "#1e9ad6");

// age ruler
const minorAges = d3.range(650, 941, 2).map(v => v / 10);
const aMinor = g.append("g").attr("transform", `translate(${edges[1]},0)`)
  .call(d3.axisLeft(ageY).tickValues(minorAges).tickSize(3).tickFormat(""));
aMinor.select(".domain").remove();
aMinor.selectAll("line").attr("stroke", "#333").attr("stroke-width", 0.7);
const aMajor = g.append("g").attr("transform", `translate(${edges[1]},0)`)
  .call(d3.axisLeft(ageY).tickValues(d3.range(65, 95)).tickSize(6).tickFormat(""));
aMajor.select(".domain").remove();
aMajor.selectAll("line").attr("stroke", "#333").attr("stroke-width", 0.9);
const aLab = g.append("g").attr("transform", `translate(${edges[1]},0)`)
  .call(d3.axisLeft(ageY).tickValues(ageTicks).tickSize(0).tickPadding(14).tickFormat(d => String(d)));
aLab.attr("font-family", FONT).attr("font-size", 16);
aLab.select(".domain").remove();
aLab.selectAll("text").attr("fill", "#222");

// column headers
g.append("text").attr("x", 22).attr("y", 47).attr("text-anchor", "middle").attr("font-size", 16).attr("fill", "#222").text("Age");
g.append("text").attr("x", 22).attr("y", 66).attr("text-anchor", "middle").attr("font-size", 16).attr("fill", "#222").text("(Ma)");
g.append("text").attr("transform", "translate(57,48) rotate(-90)").attr("text-anchor", "middle").attr("dominant-baseline", "central")
  .attr("font-size", 15).attr("fill", "#222").text("Stage");
g.append("text").attr("transform", "translate(88,48) rotate(-90)").attr("text-anchor", "middle").attr("dominant-baseline", "central")
  .attr("font-size", 15).attr("fill", "#222").text("Substage");

function title(cx, y, parts, color = "#111") {
  const t = g.append("text").attr("x", cx).attr("y", y).attr("text-anchor", "middle").attr("fill", color);
  parts.forEach(p => t.append("tspan").attr("font-size", p[1]).attr("dy", p[2] || 0).text(p[0]));
  return t;
}
title(210, 39, [["(O+C)/Ca", 25]]);
title(425.6, 39, [["(I+C)/S", 25]]);
title(624.5, 37, [["Feld/Clays", 25]]);
title(848, 45, [["ε", 42], ["Nd(t)", 21, 5]]);
title(1096, 46, [["Δε", 35], ["Hf(t)clay", 20, 5]]);
title(1315, 37, [["CIA", 24]]);
title(1634, 43, [["δ", 30], ["18", 13, -12], ["O", 30, 12], ["benthic", 16, 5], [" (‰)", 22, -5]]);
title(1766, 733, [["δ", 30], ["18", 13, -12], ["O", 30, 12], ["planktic", 16, 5], [" (‰)", 22, -5]], "#1e9ad6");

// interpretation arrows and labels
const responseText = ["primary productivity", "physical erosion", "physical erosion", "chem. weathering", "chem. wheathering?", "Seawater temperatures"];
const responseLayout = [[136, 293, 688, 218, 720], [358, 495, 681, 427, 720], [561, 692, 681, 625, 720], [1028, 1167, 680, 1092, 703], [1225, 1378, 684, 1309, 723], [1508, 1788, 752, 1654, 787]];
responseLayout.forEach((p, i) => {
  g.append("line").attr("x1", p[0]).attr("x2", p[1]).attr("y1", p[2]).attr("y2", p[2])
    .attr("stroke", "#111").attr("stroke-width", 2.2).attr("marker-end", "url(#hBlack)");
  g.append("text").attr("x", p[3]).attr("y", p[4]).attr("text-anchor", "middle")
    .attr("font-size", 20).attr("fill", "#111").text(responseText[i]);
});
g.append("line").attr("x1", 740).attr("x2", 958).attr("y1", 680).attr("y2", 680)
  .attr("stroke", "#111").attr("stroke-width", 2.2).attr("marker-start", "url(#hBlack)").attr("marker-end", "url(#hBlack)");
g.append("text").attr("x", 787).attr("y", 717).attr("text-anchor", "middle").attr("font-size", 21).attr("fill", "#111").text("crustal");
g.append("text").attr("x", 912).attr("y", 717).attr("text-anchor", "middle").attr("font-size", 21).attr("fill", "#111").text("mantellic");

// legend
g.append("line").attr("x1", 702).attr("x2", 792).attr("y1", 755).attr("y2", 755)
  .attr("stroke", "#e8382d").attr("stroke-width", 1.4).attr("marker-end", "url(#hRed)");
g.append("text").attr("x", 797).attr("y", 762).attr("font-size", 17).attr("fill", "#111").text("Potential volcanic influence");
g.append("rect").attr("x", 730).attr("y", 788).attr("width", 40).attr("height", 11).attr("fill", "#a9a9a9");
const l2 = g.append("text").attr("x", 797).attr("y", 799).attr("fill", "#111");
l2.append("tspan").attr("font-size", 22).text("ε");
l2.append("tspan").attr("font-size", 11).attr("dy", 3).text("Nd(0)");
l2.append("tspan").attr("font-size", 15).attr("dy", -3).text(" from Roddaz ");
l2.append("tspan").attr("font-size", 15).attr("font-style", "italic").text("et al.");
l2.append("tspan").attr("font-size", 15).text(", 2021");
g.append("line").attr("x1", 729).attr("x2", 772).attr("y1", 832).attr("y2", 832).attr("stroke", "#2f96cc").attr("stroke-width", 2);
const l3 = g.append("text").attr("x", 797).attr("y", 836).attr("fill", "#111");
l3.append("tspan").attr("font-size", 22).text("ε");
l3.append("tspan").attr("font-size", 11).attr("dy", 3).text("Nd(t)seawater");
l3.append("tspan").attr("font-size", 15).attr("dy", -3).text(" from Martin ");
l3.append("tspan").attr("font-size", 15).attr("font-style", "italic").text("et al.");
l3.append("tspan").attr("font-size", 15).text(", 2012");

// watermark
svg.append("text").attr("transform", "translate(402,962) rotate(-54)")
  .attr("text-anchor", "middle").attr("dominant-baseline", "central")
  .attr("font-family", FONT).attr("font-size", 132).attr("textLength", 1030)
  .attr("fill", "#d4d4d4").attr("fill-opacity", 0.72).text("Journal Pre-proof");
</script>
</body>
</html>
